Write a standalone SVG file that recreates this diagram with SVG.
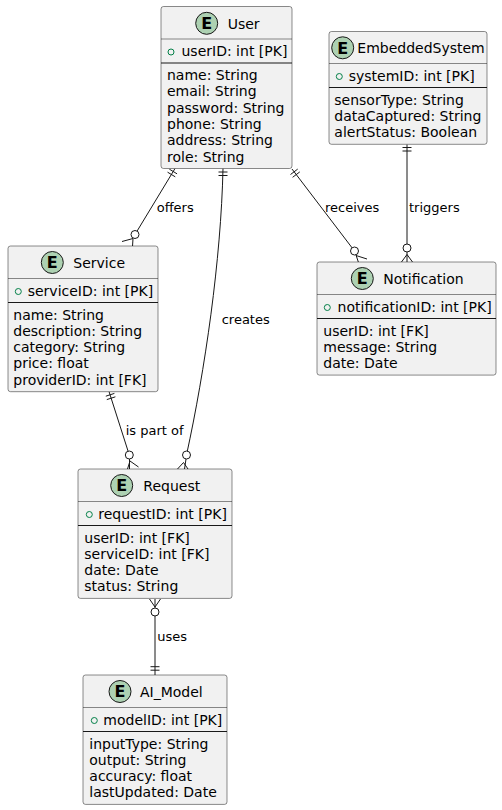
<svg xmlns="http://www.w3.org/2000/svg" width="502" height="810" viewBox="0 0 502 810">
<style>
.box{fill:#F1F1F1;stroke:#181818;stroke-width:0.5}
.hdiv{stroke:#181818;stroke-width:0.5}
.pdiv{stroke:#181818;stroke-width:1.2}
.spot{fill:#ADD1B2;stroke:#181818;stroke-width:1}
.spotE{font-family:"DejaVu Sans",sans-serif;font-size:16px;font-weight:bold;fill:#000;text-anchor:middle}
.title{font-family:"DejaVu Sans",sans-serif;font-size:14px;fill:#000}
.fld{font-family:"DejaVu Sans",sans-serif;font-size:14px;fill:#000}
.pk{fill:none;stroke:#038048;stroke-width:1}
.ln{fill:none;stroke:#181818;stroke-width:1}
.cf{fill:#fff;stroke:#181818;stroke-width:1}
.lbl{font-family:"DejaVu Sans",sans-serif;font-size:13px;fill:#000}
</style>
<rect width="502" height="810" fill="#fff"/>

<g id="connectors">
  <!-- offers -->
  <path class="ln" d="M175,168.5 L135,234.5"/>
  <path class="ln" d="M169.35,169.17 L177.05,173.83 M167.55,172.17 L175.25,176.83"/>
  <circle class="cf" cx="135" cy="234.5" r="4"/>
  <path class="ln" d="M133,238.5 L132.5,246.5 M122,241.5 L133,238.5"/>
  <text class="lbl" x="156.7" y="212">offers</text>
  <!-- creates -->
  <path class="ln" d="M223,168.5 C221,260 205,370 186.5,455"/>
  <path class="ln" d="M218.5,172 L227.5,172 M218.5,175.5 L227.5,175.5"/>
  <circle class="cf" cx="186.5" cy="455" r="4"/>
  <path class="ln" d="M186,459 L184.5,469 M183.5,462.5 L177.5,469 M183.5,462.5 L188,469"/>
  <text class="lbl" x="221.7" y="324">creates</text>
  <!-- receives -->
  <path class="ln" d="M292,169 L354.5,251"/>
  <path class="ln" d="M290.5,174.5 L297.7,169.1 M292.6,177.3 L299.8,171.9"/>
  <circle class="cf" cx="354.5" cy="251" r="4"/>
  <path class="ln" d="M356,255 L358.5,262.5 M356,255.5 L367,259"/>
  <text class="lbl" x="325" y="212">receives</text>
  <!-- triggers -->
  <path class="ln" d="M407,144.5 L407,248"/>
  <path class="ln" d="M402.5,147.5 L411.5,147.5 M402.5,151 L411.5,151"/>
  <circle class="cf" cx="407" cy="248" r="4"/>
  <path class="ln" d="M407,252 L407,262 M407,254.5 L401.5,262 M407,254.5 L412.5,262"/>
  <text class="lbl" x="409" y="212">triggers</text>
  <!-- is part of -->
  <path class="ln" d="M109,391.5 L129.3,455"/>
  <path class="ln" d="M105.8,396.2 L114.4,393.4 M106.8,399.6 L115.4,396.8"/>
  <circle class="cf" cx="129.3" cy="455" r="4"/>
  <path class="ln" d="M129.5,459 L129.5,469 M130,461 L127.5,469 M130,461 L138.5,467"/>
  <text class="lbl" x="125.7" y="435">is part of</text>
  <!-- uses -->
  <path class="ln" d="M155,599 L155,675"/>
  <path class="ln" d="M149.5,599 L155,607 L160.5,599"/>
  <circle class="cf" cx="155" cy="612" r="4"/>
  <path class="ln" d="M150.5,666.7 L159.5,666.7 M150.5,670.2 L159.5,670.2"/>
  <text class="lbl" x="157.3" y="640.5">uses</text>
</g>

<g id="User">
  <rect class="box" x="161" y="6.5" width="131" height="162" rx="2.5"/>
  <circle class="spot" cx="206.7" cy="23.3" r="11"/>
  <text class="spotE" x="206.7" y="29">E</text>
  <text class="title" x="227.7" y="28.5">User</text>
  <line class="hdiv" x1="161" y1="39" x2="292" y2="39"/>
  <circle class="pk" cx="171" cy="52" r="3"/>
  <text class="fld" x="181.5" y="56">userID: int [PK]</text>
  <line class="pdiv" x1="161" y1="63" x2="292" y2="63"/>
  <text class="fld" x="167"><tspan x="167" y="80">name: String</tspan><tspan x="167" y="96.3">email: String</tspan><tspan x="167" y="112.6">password: String</tspan><tspan x="167" y="128.9">phone: String</tspan><tspan x="167" y="145.2">address: String</tspan><tspan x="167" y="161.5">role: String</tspan></text>
</g>

<g id="EmbeddedSystem">
  <rect class="box" x="329" y="31.5" width="158" height="112.8" rx="2.5"/>
  <circle class="spot" cx="342.7" cy="47.8" r="11"/>
  <text class="spotE" x="342.7" y="53.5">E</text>
  <text class="title" x="357.3" y="53">EmbeddedSystem</text>
  <line class="hdiv" x1="329" y1="63.5" x2="487" y2="63.5"/>
  <circle class="pk" cx="339.3" cy="76.5" r="3"/>
  <text class="fld" x="348.7" y="80.5">systemID: int [PK]</text>
  <line class="pdiv" x1="329" y1="87.5" x2="487" y2="87.5"/>
  <text class="fld"><tspan x="334.3" y="104.5">sensorType: String</tspan><tspan x="334.3" y="120.8">dataCaptured: String</tspan><tspan x="334.3" y="137.1">alertStatus: Boolean</tspan></text>
</g>

<g id="Service">
  <rect class="box" x="8" y="246" width="150" height="145.7" rx="2.5"/>
  <circle class="spot" cx="52.3" cy="262.5" r="11"/>
  <text class="spotE" x="52.3" y="268.2">E</text>
  <text class="title" x="73.3" y="268">Service</text>
  <line class="hdiv" x1="8" y1="278.5" x2="158" y2="278.5"/>
  <circle class="pk" cx="18.3" cy="291.5" r="3"/>
  <text class="fld" x="27.7" y="295.5">serviceID: int [PK]</text>
  <line class="pdiv" x1="8" y1="302.5" x2="158" y2="302.5"/>
  <text class="fld"><tspan x="13.3" y="319.5">name: String</tspan><tspan x="13.3" y="335.8">description: String</tspan><tspan x="13.3" y="352.1">category: String</tspan><tspan x="13.3" y="368.4">price: float</tspan><tspan x="13.3" y="384.7">providerID: int [FK]</tspan></text>
</g>

<g id="Notification">
  <rect class="box" x="317" y="262" width="179" height="113.1" rx="2.5"/>
  <circle class="spot" cx="362.3" cy="278.5" r="11"/>
  <text class="spotE" x="362.3" y="284.2">E</text>
  <text class="title" x="383.3" y="284">Notification</text>
  <line class="hdiv" x1="317" y1="294.5" x2="496" y2="294.5"/>
  <circle class="pk" cx="327.3" cy="307.5" r="3"/>
  <text class="fld" x="337.6" y="311.5">notificationID: int [PK]</text>
  <line class="pdiv" x1="317" y1="318.5" x2="496" y2="318.5"/>
  <text class="fld"><tspan x="323.3" y="335.5">userID: int [FK]</tspan><tspan x="323.3" y="351.8">message: String</tspan><tspan x="323.3" y="368.1">date: Date</tspan></text>
</g>

<g id="Request">
  <rect class="box" x="78" y="469" width="154" height="129.4" rx="2.5"/>
  <circle class="spot" cx="121.7" cy="485.5" r="11"/>
  <text class="spotE" x="121.7" y="491.2">E</text>
  <text class="title" x="143.3" y="491">Request</text>
  <line class="hdiv" x1="78" y1="501.5" x2="232" y2="501.5"/>
  <circle class="pk" cx="89.3" cy="514.5" r="3"/>
  <text class="fld" x="98.3" y="518.5">requestID: int [PK]</text>
  <line class="pdiv" x1="78" y1="525.5" x2="232" y2="525.5"/>
  <text class="fld"><tspan x="84.3" y="542.5">userID: int [FK]</tspan><tspan x="84.3" y="558.8">serviceID: int [FK]</tspan><tspan x="84.3" y="575.1">date: Date</tspan><tspan x="84.3" y="591.4">status: String</tspan></text>
</g>

<g id="AI_Model">
  <rect class="box" x="83" y="675" width="144" height="129.4" rx="2.5"/>
  <circle class="spot" cx="120" cy="691.5" r="11"/>
  <text class="spotE" x="120" y="697.2">E</text>
  <text class="title" x="140" y="697">AI_Model</text>
  <line class="hdiv" x1="83" y1="707.5" x2="227" y2="707.5"/>
  <circle class="pk" cx="94.3" cy="720.5" r="3"/>
  <text class="fld" x="103.3" y="724.5">modelID: int [PK]</text>
  <line class="pdiv" x1="83" y1="731.5" x2="227" y2="731.5"/>
  <text class="fld"><tspan x="89.3" y="748.5">inputType: String</tspan><tspan x="89.3" y="764.8">output: String</tspan><tspan x="89.3" y="781.1">accuracy: float</tspan><tspan x="89.3" y="797.4">lastUpdated: Date</tspan></text>
</g>
</svg>
